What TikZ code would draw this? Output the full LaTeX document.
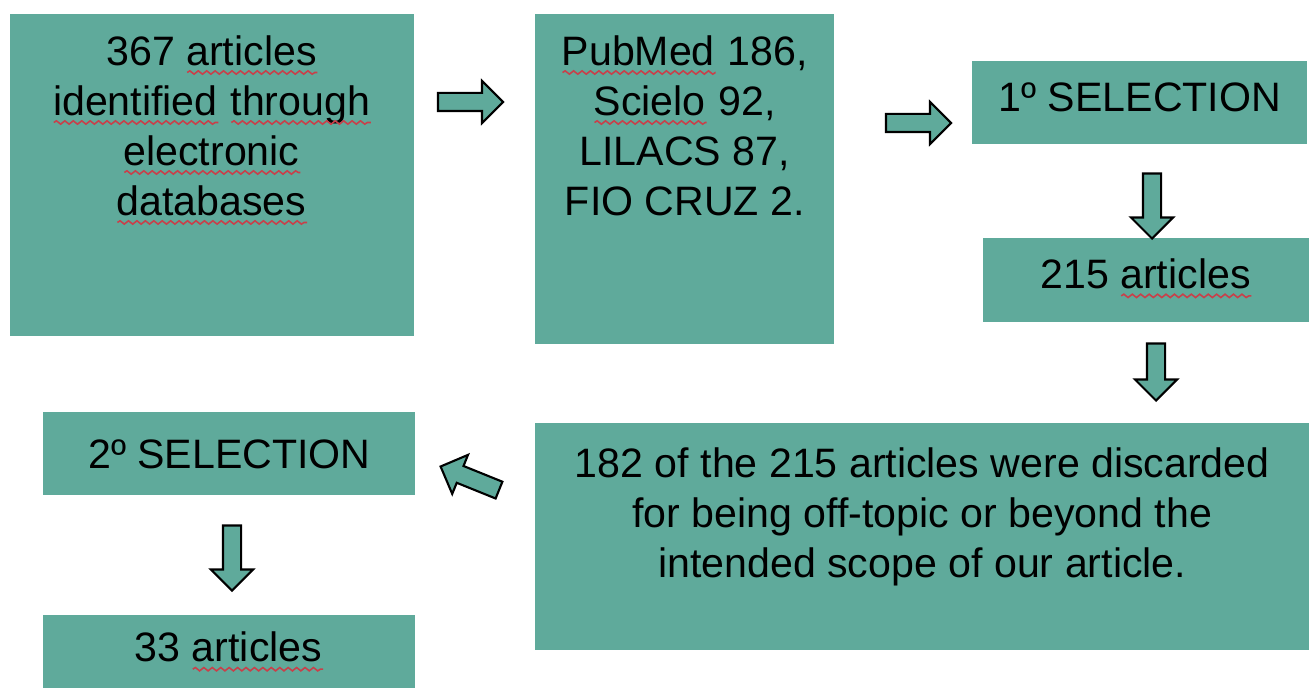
\documentclass[tikz,border=0pt]{standalone}
\usepackage{fontspec}
\setmainfont{Liberation Sans}
\usepackage{tikz}
\usetikzlibrary{positioning}
\usetikzlibrary{shapes.arrows}
\usetikzlibrary{decorations.pathmorphing}

\definecolor{boxteal}{HTML}{5FAA9B}
\definecolor{spellred}{HTML}{C8404A}

\newsavebox\spellbox
\newlength\spellwd
\newcommand\spellwave[1]{\sbox\spellbox{#1}\setlength\spellwd{\wd\spellbox}%
  \rlap{#1}\tikz[baseline=0pt]\draw[spellred, line width=0.9pt, decorate,
    decoration={snake, amplitude=0.95pt, segment length=4.8pt}] (0pt,-4.2pt) -- (\spellwd,-4.2pt);}

\begin{document}
\begin{tikzpicture}[x=0.02cm, y=-0.02cm,
    box/.style={fill=boxteal, inner sep=0pt, font=\fontsize{23.4pt}{28.45pt}\selectfont},
    boxtext/.style={inner sep=0pt, align=center, font=\fontsize{23.4pt}{28.45pt}\selectfont},
    fatarrow/.style={single arrow, draw=black, fill=boxteal, line width=1.2pt, inner sep=0.16cm, single arrow head extend=0.24cm}]

    \useasboundingbox (0,0) rectangle (1309,688);

    \node[box, anchor=north west, minimum width=8.08cm, minimum height=6.44cm]  (found)   at (10,14)   {};
    \node[box, anchor=north west, minimum width=5.98cm, minimum height=6.6cm]   (bases)   at (535,14)  {};
    \node[box, anchor=north west, minimum width=6.7cm,  minimum height=1.66cm, text depth=0.21cm] (sel1)   at (972,61)  {1º SELECTION};
    \node[box, anchor=north west, minimum width=6.52cm, minimum height=1.68cm, text depth=0.27cm] (art215) at (983,238) {215 \spellwave{articles}};
    \node[box, anchor=north west, minimum width=15.48cm, minimum height=4.54cm] (discard) at (535,423) {};
    \node[box, anchor=north west, minimum width=7.44cm, minimum height=1.66cm]  (sel2)    at (43,412)  {2º SELECTION};
    \node[box, anchor=north west, minimum width=7.44cm, minimum height=1.46cm]  (art33)   at (43,615)  {33 \spellwave{articles}};

    \node[boxtext, below=0.42cm of found.north] (foundtxt)
        {367 \spellwave{articles}\\ \spellwave{identified} \spellwave{through}\\ \spellwave{electronic}\\ \spellwave{databases}};
    \node[boxtext, below=0.42cm of bases.north] (basestxt)
        {\spellwave{PubMed} 186,\\ \spellwave{Scielo} 92,\\ LILACS 87,\\ FIO CRUZ 2.};
    \node[boxtext, below=0.48cm of discard.north] (discardtxt)
        {182 of the 215 articles were discarded\\ for being off-topic or beyond the\\ intended scope of our article.};

    % block arrows between the boxes
    \node[fatarrow, minimum height=1.3cm]              (a1) at (466,102)    {};
    \node[fatarrow, minimum height=1.3cm]              (a2) at (914,123)    {};
    \node[fatarrow, minimum height=1.3cm,  rotate=-90] (a3) at (1152,201.5) {};
    \node[fatarrow, minimum height=1.14cm, rotate=-90] (a4) at (1156,367.5) {};
    \node[fatarrow, minimum height=1.26cm, rotate=158] (a5) at (474,480)    {};
    \node[fatarrow, minimum height=1.3cm,  rotate=-90] (a6) at (232,553.5)  {};
\end{tikzpicture}
\end{document}
